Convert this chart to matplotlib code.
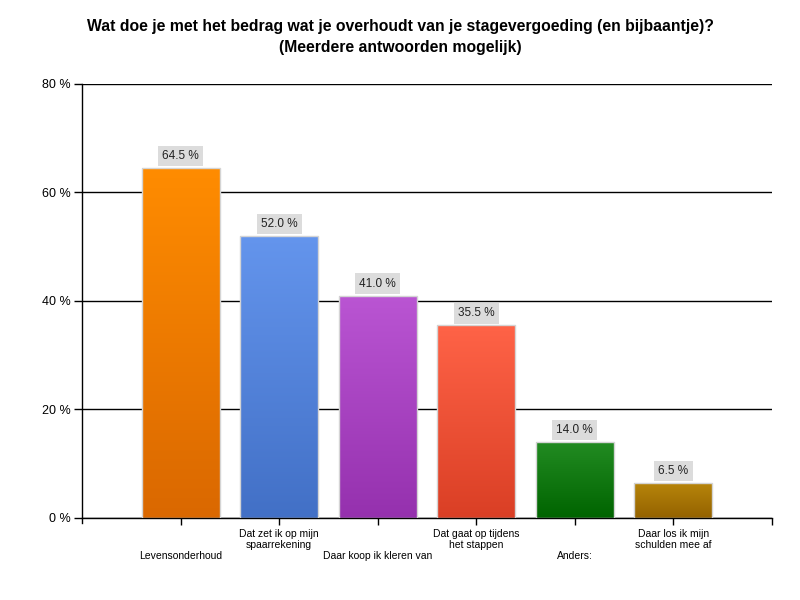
import numpy as np
import matplotlib
matplotlib.use("Agg")
import matplotlib.pyplot as plt
from matplotlib.colors import LinearSegmentedColormap

plt.rcParams['font.family'] = ['Liberation Sans', 'DejaVu Sans']

categories = [
    "Levensonderhoud",
    "Dat zet ik op mijn\nspaarrekening",
    "Daar koop ik kleren van",
    "Dat gaat op tijdens\nhet stappen",
    "Anders:",
    "Daar los ik mijn\nschulden mee af",
]
values = [64.5, 52.0, 41.0, 35.5, 14.0, 6.5]
top_colors = ["#FF8C00", "#6495ED", "#BA55D3", "#FF6347", "#228B22", "#B8860B"]
bottom_colors = ["#DA6800", "#4270C6", "#9531AE", "#DA3F25", "#006400", "#946200"]
y_ticks = [0, 20, 40, 60, 80]
y_tick_labels = ["0 %", "20 %", "40 %", "60 %", "80 %"]
title = ("Wat doe je met het bedrag wat je overhoudt van je stagevergoeding (en bijbaantje)?\n"
         "(Meerdere antwoorden mogelijk)")

fig = plt.figure(figsize=(8, 6), dpi=100)
ax = fig.add_axes([0.1025, 0.1367, 0.8625, 0.7233])

x = np.arange(len(categories))
width = 0.79
bars = ax.bar(x, values, width=width, facecolor='none', edgecolor='#D4D4D4',
              linewidth=1.0, zorder=3)

grad = np.linspace(0, 1, 256).reshape(-1, 1)
for b, tc, bc, v in zip(bars, top_colors, bottom_colors, values):
    cmap = LinearSegmentedColormap.from_list('g', [bc, tc])
    x0 = b.get_x()
    im = ax.imshow(grad, cmap=cmap, aspect='auto', origin='lower',
                   extent=[x0, x0 + b.get_width(), 0, b.get_height()], zorder=2,
                   interpolation='bilinear')
    im.set_clip_path(b)
    ax.text(b.get_x() + b.get_width() / 2, v + 2.2, f"{v:.1f} %", ha='center', va='center',
            fontsize=8.5, color='#222222', zorder=4,
            bbox=dict(boxstyle='square,pad=0.35', facecolor='#DCDCDC', edgecolor='none'))

ax.set_xlim(-1, 6)
ax.set_ylim(0, 80)

ax.set_yticks(y_ticks)
ax.set_yticklabels(y_tick_labels, fontsize=9)
ax.yaxis.grid(True, color='black', linewidth=1.0, zorder=0)
ax.set_axisbelow(True)

tick_labels = []
for i, c in enumerate(categories):
    if i % 2 == 0:
        tick_labels.append("\n\n" + c)
    else:
        tick_labels.append(c)
tick_labels.append("")
ax.set_xticks(list(x) + [6])
ax.set_xticklabels(tick_labels, fontsize=7.5, linespacing=1.15)
ax.tick_params(axis='x', length=5, width=1, pad=3)
ax.tick_params(axis='y', length=6, width=1, pad=2)

for s in ['top', 'right']:
    ax.spines[s].set_visible(False)
ax.spines['left'].set_linewidth(1.0)
ax.spines['bottom'].set_linewidth(1.0)
ax.spines['left'].set_bounds(-1, 80)

fig.text(0.5, 0.938, title, ha='center', va='center', fontsize=11.3, fontweight='bold',
         linespacing=1.45)

fig.savefig("out.png", dpi=100)
